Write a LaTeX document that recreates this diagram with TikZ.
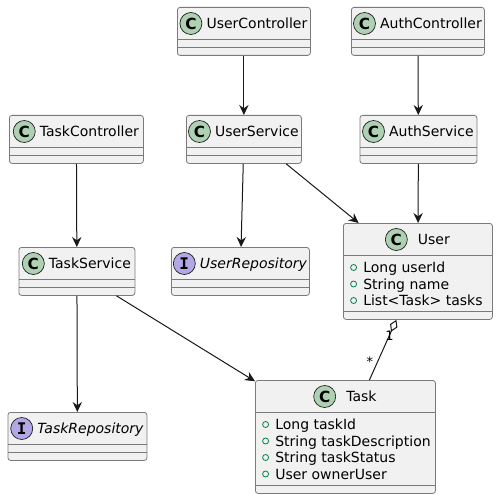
\documentclass[tikz,border=0pt]{standalone}
\usepackage{fontspec}
\setmainfont{DejaVu Sans}
\setmonofont{DejaVu Sans Mono}
\usetikzlibrary{arrows.meta, positioning, calc}
\definecolor{classfill}{HTML}{F1F1F1}
\definecolor{border}{HTML}{181818}
\definecolor{boxline}{HTML}{7A7A7A}
\definecolor{classgreen}{HTML}{ADD1B2}
\definecolor{ifacepurple}{HTML}{B4A7E5}
\definecolor{public}{HTML}{038048}
\newcommand{\px}{0.75pt}

% [gap] name, letter, title, left, top, width, attribute height
\newcommand{\umlclass}[8][4]{%
  \node[classbox, anchor=north west, minimum width={#7*\px},
        minimum height={(#8+40.5)*\px}] (#2) at (#5,#6) {};
  \draw[sepline] ($(#2.north west)+(0,32.5)$) -- ($(#2.north east)+(0,32.5)$);
  \draw[sepline] ($(#2.south west)+(0,-8)$) -- ($(#2.south east)+(0,-8)$);
  \node[classname] (#2-t) at ($(#2.north)+({(22+#1)/2},16.5)$) {#4};
  \node[badge#3, left={#1*\px} of #2-t] (#2-b) {#3};
}
% name, attribute list
\newcommand{\umlattrs}[2]{%
  \foreach \a [count=\i] in {#2} {
    \node[attr] (#1-a\i) at ($(#1.north west)+(20,{44.5+16.5*(\i-1)})$) {\a};
    \node[vis, left={6*\px} of #1-a\i] (#1-v\i) {};
  }
}

\begin{document}
\begin{tikzpicture}[
    x=0.75pt, y=-0.75pt,
    classbox/.style={draw=boxline, line width=0.6pt, fill=classfill,
                     rounded corners=2pt, inner sep=0pt},
    sepline/.style={draw=boxline, line width=0.6pt},
    classname/.style={inner sep=0pt, text height=8pt, text depth=0.5pt,
                      font=\fontsize{10.5}{12.6}\selectfont},
    badgeC/.style={circle, draw=border, line width=0.5pt, fill=classgreen,
                   minimum size={22*\px}, inner sep=0pt,
                   font=\fontsize{11.5}{12}\selectfont\bfseries},
    badgeI/.style={badgeC, fill=ifacepurple,
                   font=\fontsize{12}{12}\selectfont\ttfamily\bfseries},
    attr/.style={anchor=west, inner sep=0pt, text height=8pt, text depth=0.5pt,
                 font=\fontsize{10.5}{12.6}\selectfont},
    vis/.style={circle, draw=public, line width=0.6pt, minimum size={6*\px},
                inner sep=0pt},
    assoc/.style={-{Stealth[length=7.5pt, width=7pt, inset=2.5pt]},
                  draw=border, line width=0.75pt},
    aggr/.style={{Diamond[open, length=9.75pt, width=6pt]}-, draw=border,
                 line width=0.75pt},
    mult/.style={inner sep=1pt, font=\fontsize{9.75}{11}\selectfont}
  ]
  \useasboundingbox (0,0) rectangle (497,499);

  % top row
  \umlclass{userctl}{C}{UserController}{177}{7}{133}{7.5}
  \umlclass{authctl}{C}{AuthController}{351}{7}{133}{7.5}

  % services
  \umlclass{taskctl}{C}{TaskController}{9}{115}{134}{7.5}
  \umlclass{usersvc}{C}{UserService}{186}{115}{115}{7.5}
  \umlclass{authsvc}{C}{AuthService}{359.5}{115}{117}{7.5}

  % entities and repositories
  \umlclass[10]{user}{C}{User}{343}{223}{149}{55.5}
  \umlattrs{user}{Long userId, String name, List<Task> tasks}
  \umlclass{tasksvc}{C}{TaskService}{18.5}{247}{116}{7.5}
  \umlclass{userrepo}{I}{\itshape UserRepository}{171}{247}{138}{7.5}
  \umlclass[10]{task}{C}{Task}{255}{380}{180}{72.5}
  \umlattrs{task}{Long taskId, String taskDescription, String taskStatus, User ownerUser}
  \umlclass{taskrepo}{I}{\itshape TaskRepository}{7.5}{412}{139}{7.5}

  % connectors
  \draw[assoc] (userctl) -- (usersvc);
  \draw[assoc] (authctl) -- (authsvc);
  \draw[assoc] (taskctl) -- (tasksvc);
  \draw[assoc] (usersvc) -- (userrepo);
  \draw[assoc] (usersvc.-30) -- (user);
  \draw[assoc] (authsvc) -- (user);
  \draw[assoc] (tasksvc) -- (taskrepo);
  \draw[assoc] (tasksvc) -- (task);
  \draw[aggr] ($(user.south)+(-21.5,0)$) -- ($(task.north)+(24,0)$)
    node[mult, pos=0.26] (one) {1}
    node[mult, pos=0.7, left=2pt] (many) {*};
\end{tikzpicture}
\end{document}
